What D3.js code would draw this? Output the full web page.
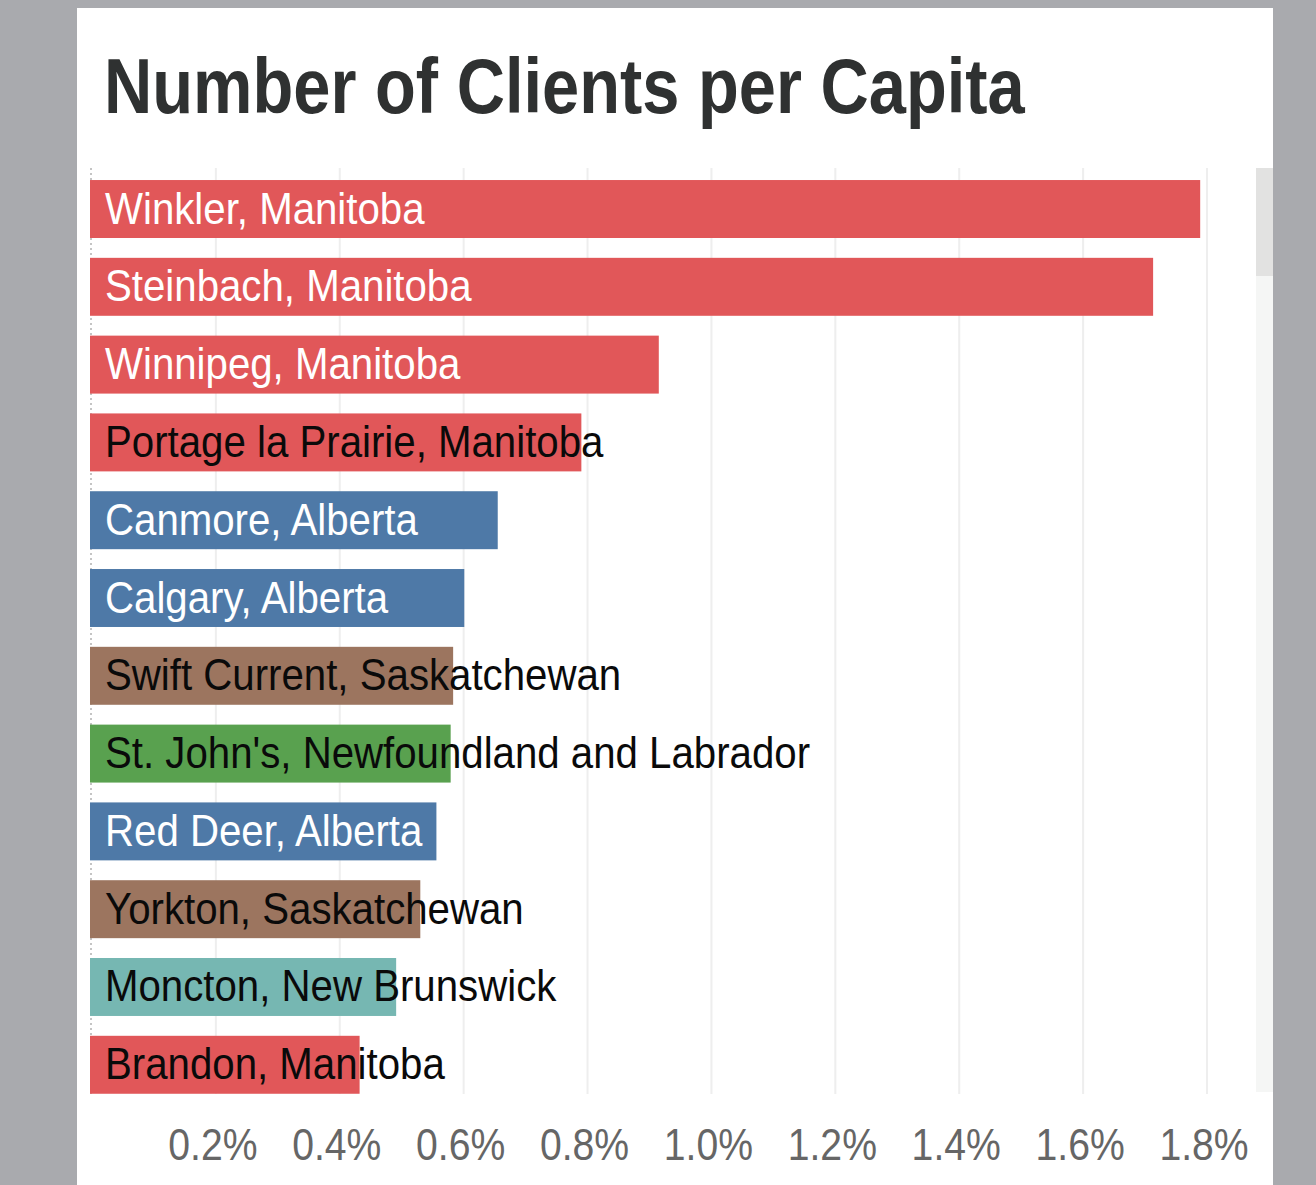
<!DOCTYPE html>
<html><head><meta charset="utf-8">
<script src="https://cdn.jsdelivr.net/npm/d3@7"></script>
<style>html,body{margin:0;padding:0;background:#a9aaae;overflow:hidden}</style>
</head><body>
<script>
const cities = ["Winkler, Manitoba","Steinbach, Manitoba","Winnipeg, Manitoba","Portage la Prairie, Manitoba","Canmore, Alberta","Calgary, Alberta","Swift Current, Saskatchewan","St. John's, Newfoundland and Labrador","Red Deer, Alberta","Yorkton, Saskatchewan","Moncton, New Brunswick","Brandon, Manitoba"];
const provinces = ["Manitoba","Manitoba","Manitoba","Manitoba","Alberta","Alberta","Saskatchewan","Newfoundland and Labrador","Alberta","Saskatchewan","New Brunswick","Manitoba"];
const values = [0.01789,0.01713,0.00915,0.00790,0.00655,0.00601,0.00583,0.00579,0.00556,0.00530,0.00491,0.00432];
const tickValues = [0.002,0.004,0.006,0.008,0.010,0.012,0.014,0.016,0.018];
const provinceNames = ["Manitoba","Alberta","Saskatchewan","Newfoundland and Labrador","New Brunswick"];
const provinceColors = ["#e15759","#4e79a7","#9c755f","#59a14f","#76b7b2"];
const title = "Number of Clients per Capita";

const W = 1316, H = 1185;
const svg = d3.select("body").append("svg").attr("width", W).attr("height", H)
  .style("display","block");

svg.append("rect").attr("width", W).attr("height", H).attr("fill", "#a9aaae");
svg.append("rect").attr("x", 77).attr("y", 8).attr("width", 1196).attr("height", H - 8).attr("fill", "#fff");

// scrollbar
svg.append("rect").attr("x", 1256).attr("y", 168).attr("width", 17).attr("height", 924).attr("fill", "#f5f6f5");
svg.append("rect").attr("x", 1256).attr("y", 168).attr("width", 17).attr("height", 108).attr("fill", "#e2e2e1");

svg.append("text").text(title)
  .attr("transform", "translate(104,113) scale(0.868,1)")
  .attr("font-family", "Liberation Sans, Arial, sans-serif")
  .attr("font-weight", "bold").attr("font-size", 77).attr("fill", "#2f3131");

const x = d3.scaleLinear().domain([0, 0.018]).range([92, 1207]);
const y = d3.scaleBand().domain(cities).range([160.2, 1113.6]).padding(0.255);
const color = d3.scaleOrdinal().domain(provinceNames).range(provinceColors);

const gridTop = 168, gridBottom = 1094;
svg.append("g").selectAll("line").data(tickValues).join("line")
  .attr("x1", d => x(d)).attr("x2", d => x(d))
  .attr("y1", gridTop).attr("y2", gridBottom)
  .attr("stroke", "#eeeeee").attr("stroke-width", 2);

svg.append("line").attr("x1", 91).attr("x2", 91).attr("y1", gridTop).attr("y2", gridBottom)
  .attr("stroke", "#c4c4c4").attr("stroke-width", 2).attr("stroke-dasharray", "2,3");

const rows = cities.map((c, i) => ({city: c, prov: provinces[i], v: values[i]}));

svg.append("g").selectAll("rect").data(rows).join("rect")
  .attr("x", x(0) - 2).attr("y", d => y(d.city))
  .attr("width", d => x(d.v) - x(0) + 2).attr("height", y.bandwidth())
  .attr("fill", d => color(d.prov));

const sx = 0.914;
const labels = svg.append("g").selectAll("text").data(rows).join("text")
  .text(d => d.city)
  .attr("transform", d => `translate(105,${y(d.city) + y.bandwidth()/2 + 14.5}) scale(${sx},1)`)
  .attr("font-family", "Liberation Sans, Arial, sans-serif")
  .attr("font-size", 44);
labels.attr("fill", function(d) {
  const w = this.getComputedTextLength() * sx;
  return (105 + w <= x(d.v)) ? "#ffffff" : "#0a0a0a";
});

const fmt = d3.format(".1%");
svg.append("g").selectAll("text").data(tickValues).join("text")
  .text(d => fmt(d))
  .attr("transform", d => `translate(${x(d) - 3},1160) scale(0.87,1)`)
  .attr("text-anchor", "middle")
  .attr("font-family", "Liberation Sans, Arial, sans-serif")
  .attr("font-size", 45).attr("fill", "#666666");
</script>
</body></html>
